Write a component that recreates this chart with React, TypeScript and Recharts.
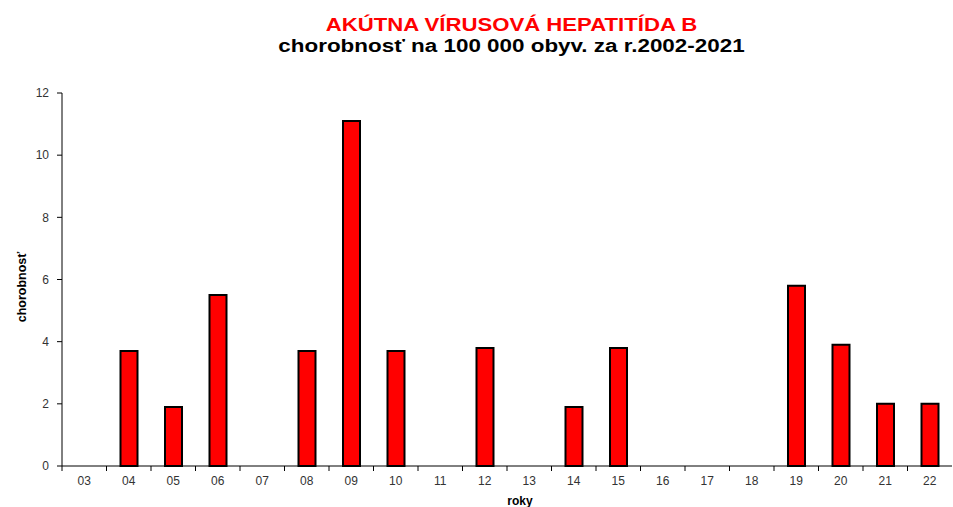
import React from 'react';
import { BarChart, Bar, XAxis, YAxis, Label } from 'recharts';

// years (last two digits) and incidence per 100 000 inhabitants
const years = ['03', '04', '05', '06', '07', '08', '09', '10', '11', '12', '13', '14', '15', '16', '17', '18', '19', '20', '21', '22'];
const incidence: (number | null)[] = [null, 3.7, 1.9, 5.5, null, 3.7, 11.1, 3.7, null, 3.8, null, 1.9, 3.8, null, null, null, 5.8, 3.9, 2.0, 2.0];
const yTicks = [0, 2, 4, 6, 8, 10, 12];

const data = years.map((year, i) => ({ year, value: incidence[i] }));

const WIDTH = 953;
const HEIGHT = 507;
const PLOT_LEFT = 62;
const PLOT_RIGHT = 952;
const BAND = (PLOT_RIGHT - PLOT_LEFT) / years.length;
const TITLE_CENTER = 511;
const FONT = '"Liberation Sans", Arial, sans-serif';

// tick label centred in the band, tick mark on the band's left boundary
const XTick = (props: any) => {
  const { x, y, payload } = props;
  const left = x - BAND / 2;
  return (
    <g>
      <line x1={left} x2={left} y1={y} y2={y + 5} stroke="#000" strokeWidth={1} />
      <text x={x} y={y + 18.5} textAnchor="middle" fontSize={12} fill="#333" fontFamily={FONT}>
        {payload.value}
      </text>
    </g>
  );
};

// heading text is drawn a little stretched, like the exported original
const titleStyle: React.CSSProperties = {
  position: 'absolute',
  left: TITLE_CENTER - WIDTH / 2,
  width: WIDTH,
  textAlign: 'center',
  fontFamily: FONT,
  fontWeight: 'bold',
  fontSize: 18,
  lineHeight: '18px',
  whiteSpace: 'nowrap',
  transformOrigin: '50% 0',
};

export default function App() {
  return (
    <div style={{ position: 'absolute', left: 0, top: 0, width: WIDTH, height: HEIGHT, background: '#fff', overflow: 'hidden' }}>
      <div style={{ ...titleStyle, top: 16, color: '#ff0000', transform: 'scaleX(1.23)' }}>AKÚTNA VÍRUSOVÁ HEPATITÍDA B</div>
      <div style={{ ...titleStyle, top: 36.5, color: '#000', transform: 'scaleX(1.245)' }}>chorobnosť na 100 000 obyv. za r.2002-2021</div>
      <BarChart
        width={WIDTH}
        height={HEIGHT}
        data={data}
        margin={{ top: 93, right: WIDTH - PLOT_RIGHT, bottom: 0, left: 2 }}
        barCategoryGap={0}
        style={{ position: 'absolute', left: 0, top: 0 }}
      >
        <XAxis
          dataKey="year"
          height={41}
          axisLine={{ stroke: '#000', strokeWidth: 1 }}
          tickLine={false}
          tickSize={0}
          tickMargin={0}
          interval={0}
          tick={<XTick />}
        >
          <Label
            content={() => (
              <text x={520} y={505} textAnchor="middle" fontSize={12} fontWeight="bold" fill="#000" fontFamily={FONT}>
                roky
              </text>
            )}
          />
        </XAxis>
        <YAxis
          width={PLOT_LEFT - 2}
          domain={[0, 12]}
          ticks={yTicks}
          interval={0}
          axisLine={{ stroke: '#000', strokeWidth: 1 }}
          tickLine={{ stroke: '#000' }}
          tickSize={5}
          tickMargin={8}
          tick={{ fontSize: 12, fill: '#333', fontFamily: FONT }}
        >
          <Label
            content={() => (
              <text
                x={22}
                y={287}
                transform="rotate(-90 22 287)"
                textAnchor="middle"
                dominantBaseline="central"
                fontSize={12.5}
                fontWeight="bold"
                fill="#000"
                fontFamily={FONT}
              >
                chorobnosť
              </text>
            )}
          />
        </YAxis>
        <Bar dataKey="value" fill="#ff0000" stroke="#000" strokeWidth={2} barSize={17} isAnimationActive={false} />
      </BarChart>
    </div>
  );
}
